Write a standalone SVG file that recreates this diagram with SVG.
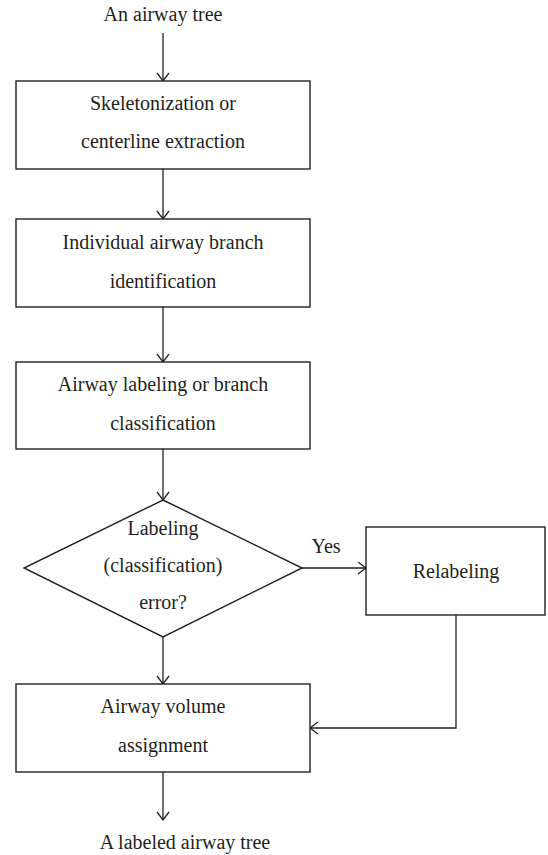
<svg xmlns="http://www.w3.org/2000/svg" width="548" height="855" viewBox="0 0 548 855">
<style>
  .box { fill: #ffffff; stroke: #231f20; stroke-width: 1.4; }
  .edge { fill: none; stroke: #231f20; stroke-width: 1.3; }
  text { font-family: "Liberation Serif", "Times New Roman", serif; font-size: 20px; fill: #231f20; text-anchor: middle; }
</style>
<defs>
  <marker id="arr" markerUnits="userSpaceOnUse" markerWidth="12" markerHeight="14" refX="9" refY="6.5" orient="auto">
    <path d="M1,0.5 L9,6.5 L1,12.5" fill="none" stroke="#231f20" stroke-width="1.3"/>
  </marker>
</defs>
<rect width="548" height="855" fill="#ffffff"/>

<g id="edges">
  <line class="edge" x1="163" y1="33" x2="163" y2="81" marker-end="url(#arr)"/>
  <line class="edge" x1="163" y1="169" x2="163" y2="219" marker-end="url(#arr)"/>
  <line class="edge" x1="163" y1="307" x2="163" y2="362" marker-end="url(#arr)"/>
  <line class="edge" x1="163" y1="449" x2="163" y2="500" marker-end="url(#arr)"/>
  <line class="edge" x1="302" y1="568" x2="366" y2="568" marker-end="url(#arr)"/>
  <line class="edge" x1="163" y1="637" x2="163" y2="684" marker-end="url(#arr)"/>
  <polyline class="edge" points="456,615 456,728 310,728" marker-end="url(#arr)"/>
  <line class="edge" x1="163" y1="772" x2="163" y2="820" marker-end="url(#arr)"/>
  <text x="326" y="553">Yes</text>
</g>

<g id="start">
  <text x="163" y="21">An airway tree</text>
</g>

<g id="skeleton">
  <rect class="box" x="16" y="81" width="294" height="88"/>
  <text x="163" y="110">Skeletonization or</text>
  <text x="163" y="148">centerline extraction</text>
</g>

<g id="branchid">
  <rect class="box" x="16" y="219" width="294" height="88"/>
  <text x="163" y="249">Individual airway branch</text>
  <text x="163" y="288">identification</text>
</g>

<g id="labeling">
  <rect class="box" x="16" y="362" width="294" height="87"/>
  <text x="163" y="391">Airway labeling or branch</text>
  <text x="163" y="430">classification</text>
</g>

<g id="decision">
  <polygon class="box" points="163,500 302,568 163,637 24,568"/>
  <text x="163" y="535">Labeling</text>
  <text x="163" y="572">(classification)</text>
  <text x="163" y="609">error?</text>
</g>

<g id="relabel">
  <rect class="box" x="366" y="527" width="179" height="88"/>
  <text x="456" y="578">Relabeling</text>
</g>

<g id="volume">
  <rect class="box" x="16" y="684" width="294" height="88"/>
  <text x="163" y="713">Airway volume</text>
  <text x="163" y="752">assignment</text>
</g>

<g id="end">
  <text x="185" y="849">A labeled airway tree</text>
</g>
</svg>
